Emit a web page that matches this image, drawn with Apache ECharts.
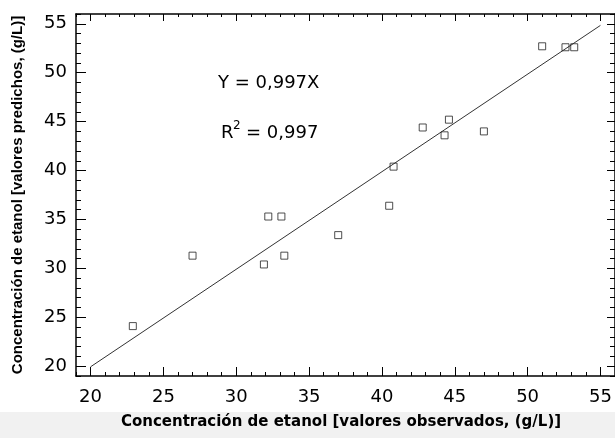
<!DOCTYPE html>
<html>
<head>
<meta charset="utf-8">
<script src="https://cdn.jsdelivr.net/npm/echarts@6/dist/echarts.min.js"></script>
<style>
  html, body { margin: 0; padding: 0; background: #fff; }
  #chart { width: 615px; height: 438px; }
</style>
</head>
<body>
<div id="chart"></div>
<script>
// valores observados / predichos (g/L)
var observed  = [22.9, 27.0, 31.9, 32.2, 33.1, 33.3, 37.0, 40.5, 40.8, 42.8, 44.3, 44.6, 47.0, 51.0, 52.6, 53.2];
var predicted = [24.1, 31.3, 30.4, 35.3, 35.3, 31.3, 33.4, 36.4, 40.4, 44.4, 43.6, 45.2, 44.0, 52.7, 52.6, 52.6];
var slope = 0.997;
var fitRange = [20, 55];
var majorTicks = [20, 25, 30, 35, 40, 45, 50, 55];

var axisMin = 19, axisMax = 56;
var ink = '#000';
var font = 'DejaVu Sans';

var points = observed.map(function (x, i) { return [x, predicted[i]]; });
var fitLine = fitRange.map(function (x) { return [x, slope * x]; });

// major ticks at custom values (labels only on bottom/left)
function majorAxis(pos, len, margin) {
	return {
		type: 'value', position: pos, min: axisMin, max: axisMax,
		axisLine: { show: true, onZero: false, lineStyle: { color: ink, width: 1.5 } },
		splitLine: { show: false },
		axisTick: { show: true, inside: true, length: len, customValues: majorTicks, lineStyle: { color: ink, width: 1 } },
		axisLabel: margin ? {
			show: true, customValues: majorTicks,
			fontFamily: font, fontSize: 18, color: ink, margin: margin
		} : { show: false }
	};
}
// minor ticks, one per unit
function minorAxis(pos, len) {
	return {
		type: 'value', position: pos, min: axisMin, max: axisMax, interval: 1,
		axisLine: { show: false, onZero: false },
		splitLine: { show: false },
		axisTick: { show: true, inside: true, length: len, lineStyle: { color: ink, width: 1 } },
		axisLabel: { show: false }
	};
}

var yMain = majorAxis('left', 10, 9);
yMain.name = 'Concentración de etanol [valores predichos, (g/L)]';
yMain.nameLocation = 'middle';
yMain.nameRotate = 90;
yMain.nameGap = 51;
yMain.nameTextStyle = { fontFamily: 'Liberation Sans', fontWeight: 'bold', fontSize: 15, color: ink };

var chart = echarts.init(document.getElementById('chart'));

chart.setOption({
	backgroundColor: '#fff',
	animation: false,
	grid: { left: 76, top: 14, right: 0, height: 362 },
	xAxis: [
		majorAxis('bottom', 9, 12),
		minorAxis('bottom', 4),
		majorAxis('top', 7),
		minorAxis('top', 3)
	],
	yAxis: [
		yMain,
		minorAxis('left', 5),
		majorAxis('right', 8),
		minorAxis('right', 5)
	],
	graphic: [
		{ type: 'rect', left: 0, top: 412, z: -10, shape: { width: 615, height: 26 }, style: { fill: '#f1f1f1' } },
		{
			type: 'text', x: 341, y: 415,
			style: {
				text: 'Concentración de etanol [valores observados, (g/L)]',
				fontFamily: font, fontWeight: 'bold', fontSize: 15, fill: ink, align: 'center'
			}
		},
		{ type: 'text', x: 218, y: 74, style: { text: 'Y = 0,997X', fontFamily: font, fontSize: 18, fill: ink } },
		{ type: 'text', x: 221, y: 124, style: { text: 'R', fontFamily: font, fontSize: 18, fill: ink } },
		{ type: 'text', x: 233, y: 120, style: { text: '2', fontFamily: font, fontSize: 12, fill: ink } },
		{ type: 'text', x: 246, y: 124, style: { text: '= 0,997', fontFamily: font, fontSize: 18, fill: ink } }
	],
	series: [
		{
			type: 'line',
			data: fitLine,
			symbol: 'none',
			lineStyle: { color: '#333', width: 1 },
			z: 1
		},
		{
			type: 'scatter',
			data: points,
			symbol: 'rect',
			symbolSize: 7,
			itemStyle: { color: 'transparent', borderColor: '#222', borderWidth: 1 },
			z: 2
		}
	]
});
</script>
</body>
</html>
